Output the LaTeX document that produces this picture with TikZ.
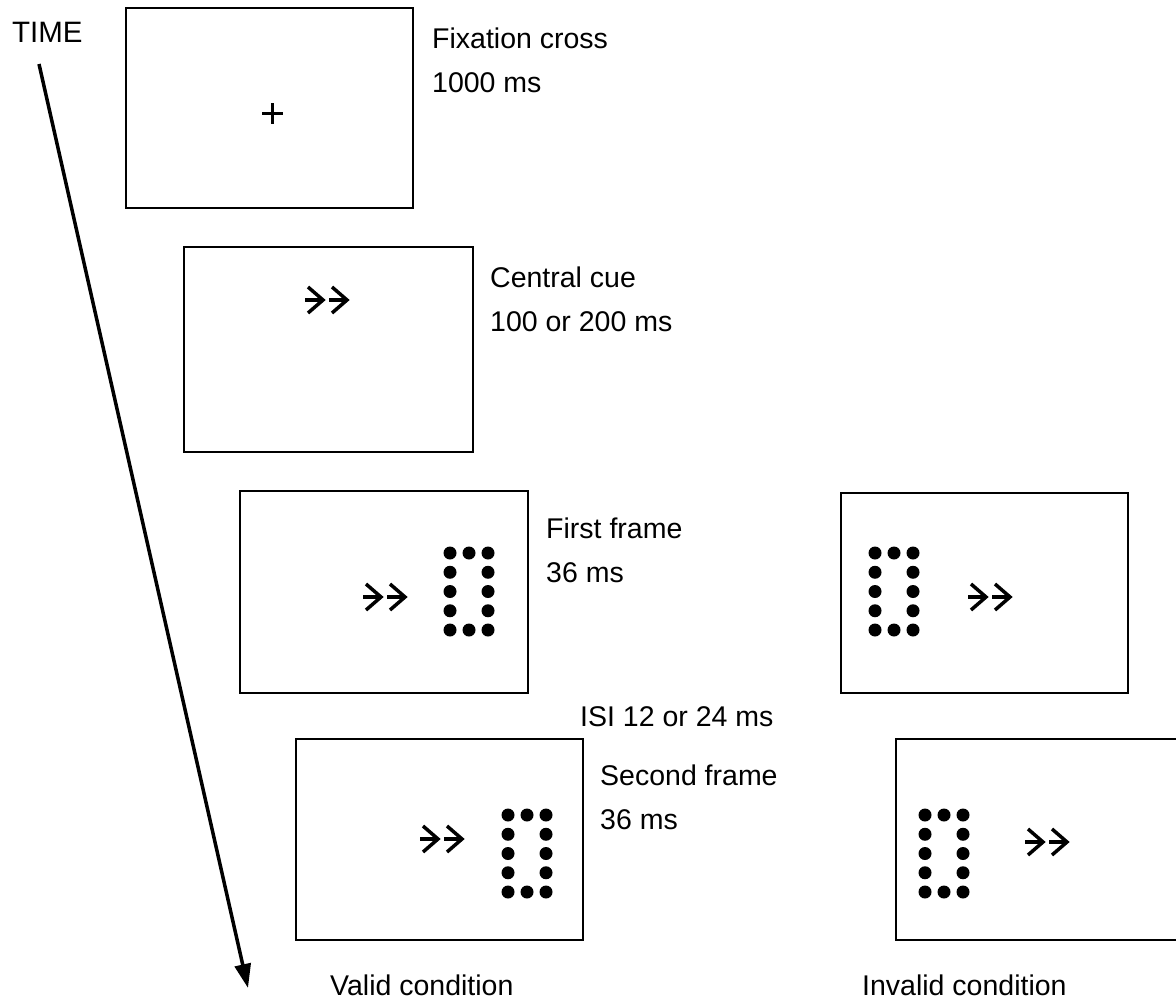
\documentclass[tikz,border=0pt]{standalone}
\usepackage{fontspec}
\setmainfont{Liberation Sans}
\usetikzlibrary{arrows.meta}

% Pair of cue arrows, starting at x = #1, centred on y = #2
\newcommand\cuepair[2]{%
  \foreach \dx in {0,24}{%
    \draw[cuestroke] (#1+\dx,#2) -- (#1+\dx+18,#2);
    \draw[cuestroke] (#1+\dx+3,#2-13) -- (#1+\dx+18,#2) -- (#1+\dx+3,#2+13);
  }}
% Rectangle of twelve dots, top-left dot at (#1,#2)
\newcommand\dotframe[2]{%
  \foreach \c in {0,1,2}{%
    \fill (#1+19*\c,#2) circle (6.5pt);
    \fill (#1+19*\c,#2+77) circle (6.5pt);
  }
  \foreach \r in {1,2,3}{%
    \fill (#1,#2+19.25*\r) circle (6.5pt);
    \fill (#1+38,#2+19.25*\r) circle (6.5pt);
  }}

\begin{document}
\begin{tikzpicture}[x=1pt,y=-1pt,
  screen/.style={draw, line width=2pt, inner sep=0pt, minimum width=287pt, minimum height=200pt},
  lbl/.style={anchor=base west, inner sep=0pt, font=\fontsize{28.5}{44}\selectfont},
  cuestroke/.style={line width=3.5pt, line cap=butt, line join=miter}]
\useasboundingbox (0,0) rectangle (1176,1001);
\clip (0,0) rectangle (1176,1001);

% display screens
\node[screen] (fix)  at (269.5,108) {};
\node[screen, minimum width=289pt, minimum height=205pt] (cue) at (328.5,349.5) {};
\node[screen, minimum width=288pt, minimum height=202pt] (firstV)  at (384,592) {};
\node[screen, minimum height=200pt] (firstI)  at (984.5,593) {};
\node[screen, minimum height=201pt] (secondV) at (439.5,839.5) {};
\node[screen, minimum width=294pt, minimum height=201pt] (secondI) at (1043,839.5) {};

% fixation cross
\draw[line width=3.5pt] (262,113.5) -- (283,113.5) (272.5,103) -- (272.5,124);

% cue arrows
\cuepair{305}{300}
\cuepair{363}{597}
\cuepair{968}{597}
\cuepair{420}{839}
\cuepair{1025}{842}

% dot rectangles
\dotframe{450}{553}
\dotframe{875}{553}
\dotframe{508}{815}
\dotframe{925}{815}

% time axis
\coordinate (tstart) at (39,64);
\coordinate (tend) at (248,988);
\draw[line width=3.5pt, -{Triangle[length=24pt,width=16pt]}] (tstart) -- (tend);

% labels
\node[lbl, font=\fontsize{29.5}{44}\selectfont] (time) at (12,42) {TIME};
\node[lbl] (fixA) at (432,48) {Fixation cross};
\node[lbl] (fixB) at (432,92) {1000 ms};
\node[lbl] (cueA) at (490,287) {Central cue};
\node[lbl] (cueB) at (490,331) {100 or 200 ms};
\node[lbl] (firA) at (546,538) {First frame};
\node[lbl] (firB) at (546,582) {36 ms};
\node[lbl] (isi)  at (580,726) {ISI 12 or 24 ms};
\node[lbl] (secA) at (600,785) {Second frame};
\node[lbl] (secB) at (600,829) {36 ms};
\node[lbl] (valid)   at (330,995) {Valid condition};
\node[lbl] (invalid) at (862,995) {Invalid condition};
\end{tikzpicture}
\end{document}
